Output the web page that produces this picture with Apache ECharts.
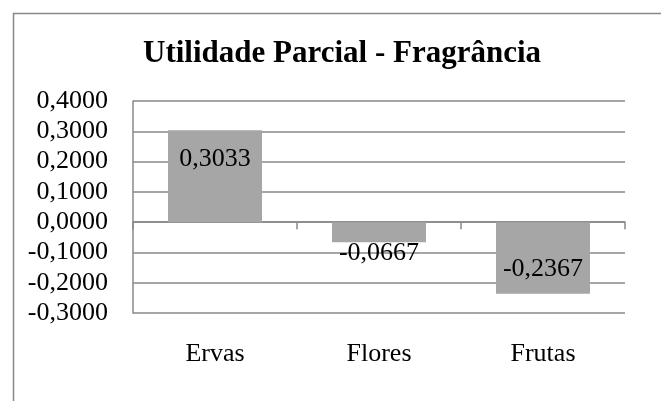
<!DOCTYPE html>
<html>
<head>
<meta charset="utf-8">
<script src="https://cdn.jsdelivr.net/npm/echarts@6/dist/echarts.min.js"></script>
<style>html,body{margin:0;padding:0;background:#fff}#c{width:661px;height:401px}</style>
</head>
<body>
<div id="c"></div>
<script>
var titleText = 'Utilidade Parcial - Fragrância';
var categories = ['Ervas', 'Flores', 'Frutas'];
var values = [0.3033, -0.0667, -0.2367];
var yMin = -0.3, yMax = 0.4, yStep = 0.1;

function fmt(v) {
  if (Math.abs(v) < 1e-9) v = 0;
  return v.toFixed(4).replace('.', ',');
}
var FONT = 'Liberation Serif';
var labelPos = [
  {position: 'insideTop', distance: 16},
  {position: 'bottom', distance: -2},
  {position: 'insideBottom', distance: 12}
];
var chart = echarts.init(document.getElementById('c'), null, {renderer: 'canvas'});
chart.setOption({
  animation: false,
  backgroundColor: '#fff',
  graphic: [{
    type: 'rect', left: 11, top: 11,
    shape: {width: 700, height: 450},
    style: {fill: 'none', stroke: '#888888', lineWidth: 1.5},
    silent: true, z: 0
  }],
  title: {
    text: titleText, left: 138, top: 33,
    textStyle: {fontFamily: FONT, fontWeight: 'bold', fontSize: 31, color: '#000'}
  },
  grid: {left: 133, top: 101, right: 36, bottom: 88, containLabel: false},
  xAxis: [{
    type: 'category', data: categories, position: 'bottom',
    axisLine: {onZero: true, lineStyle: {color: '#888888', width: 1.5}},
    axisTick: {show: true, length: 7, lineStyle: {color: '#888888', width: 1.5}},
    axisLabel: {show: false}
  }, {
    type: 'category', data: categories, position: 'bottom',
    axisLine: {show: false, onZero: false}, axisTick: {show: false},
    axisLabel: {show: true, margin: 28, fontFamily: FONT, fontSize: 26, color: '#000'}
  }],
  yAxis: {
    type: 'value', min: yMin, max: yMax, interval: yStep,
    axisLine: {show: true, lineStyle: {color: '#888888', width: 1.5}},
    axisTick: {show: false},
    splitLine: {show: true, lineStyle: {color: '#888888', width: 1.5}},
    axisLabel: {margin: 25, fontFamily: FONT, fontSize: 26, color: '#000', formatter: fmt}
  },
  series: [{
    type: 'bar', xAxisIndex: 0, barWidth: 94,
    itemStyle: {color: '#a6a6a6'},
    data: values.map(function (v, i) {
      return {value: v, label: {show: true, position: labelPos[i].position, distance: labelPos[i].distance}};
    }),
    label: {fontFamily: FONT, fontSize: 26, color: '#000', formatter: function (p) { return fmt(p.value); }}
  }]
});
</script>
</body>
</html>
